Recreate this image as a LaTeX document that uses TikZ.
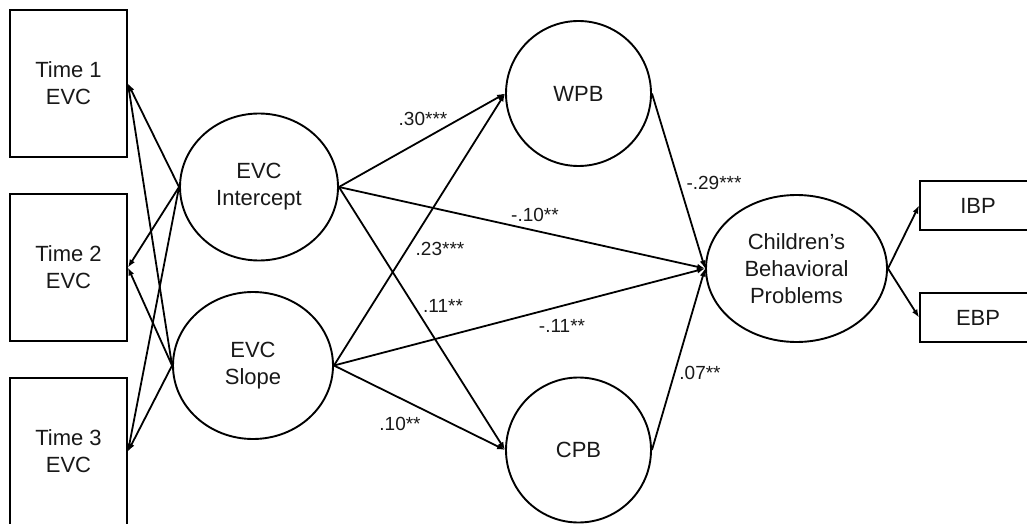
\documentclass[tikz,border=0pt]{standalone}
\usepackage{fontspec}
\setmainfont{Liberation Sans}
\usetikzlibrary{shapes.geometric,arrows.meta}
\begin{document}
\begin{tikzpicture}[x=1pt,y=-1pt,
  every node/.style={font=\fontsize{22}{27}\selectfont, align=center, text=black!90},
  obs/.style={draw, line width=1.9pt, minimum width=117pt, minimum height=147pt, inner sep=0pt},
  ind/.style={draw, line width=1.9pt, minimum width=116pt, minimum height=49pt, inner sep=0pt},
  lat/.style={draw, ellipse, line width=1.9pt, inner sep=0pt},
  med/.style={draw, circle, line width=1.9pt, minimum size=145pt, inner sep=0pt},
  coef/.style={font=\fontsize{19}{22}\selectfont, inner sep=0pt},
  path/.style={line width=1.8pt, -{Latex[length=8pt,width=6pt]}}]
\useasboundingbox (0,0) rectangle (1027,524);
\fill[white] (0,0) rectangle (1027,524);

% observed indicators of EVC
\node[obs] (t1) at (68.5,83.5) {Time 1\\EVC};
\node[obs] (t2) at (68.5,267.5) {Time 2\\EVC};
\node[obs] (t3) at (68.5,451.5) {Time 3\\EVC};

% growth factors
\node[lat, minimum width=158pt, minimum height=147pt] (int) at (259,187) {EVC\\Intercept};
\node[lat, minimum width=160pt, minimum height=147pt] (slo) at (253,365.5) {EVC\\Slope};

% mediators
\node[med] (wpb) at (578.5,93.5) {WPB};
\node[med] (cpb) at (578.5,450) {CPB};

% outcome and its indicators
\node[lat, minimum width=181pt, minimum height=147pt] (cbp) at (796.5,268.5) {Children’s\\Behavioral\\Problems};
\node[ind] (ibp) at (978,205.5) {IBP};
\node[ind] (ebp) at (978,317.5) {EBP};

% loadings
\foreach \f in {int,slo}
  \foreach \t in {t1,t2,t3}
    \draw[path] (\f.west) -- (\t.east);

% structural paths
\draw[path] (int.east) -- (wpb.west);
\draw[path] (int.east) -- (cbp.west);
\draw[path] (int.east) -- (cpb.west);
\draw[path] (slo.east) -- (wpb.west);
\draw[path] (slo.east) -- (cbp.west);
\draw[path] (slo.east) -- (cpb.west);
\draw[path] (wpb.east) -- (cbp.west);
\draw[path] (cpb.east) -- (cbp.west);
\draw[path] (cbp.east) -- (ibp.west);
\draw[path] (cbp.east) -- (ebp.west);

% path coefficients
\node[coef] (c1) at (423,119) {.30***};
\node[coef] (c2) at (535,215) {-.10**};
\node[coef] (c3) at (440,249) {.23***};
\node[coef] (c4) at (443,306) {.11**};
\node[coef] (c5) at (562,326) {-.11**};
\node[coef] (c6) at (400,424) {.10**};
\node[coef] (c7) at (714,183) {-.29***};
\node[coef] (c8) at (700,373) {.07**};
\end{tikzpicture}
\end{document}
